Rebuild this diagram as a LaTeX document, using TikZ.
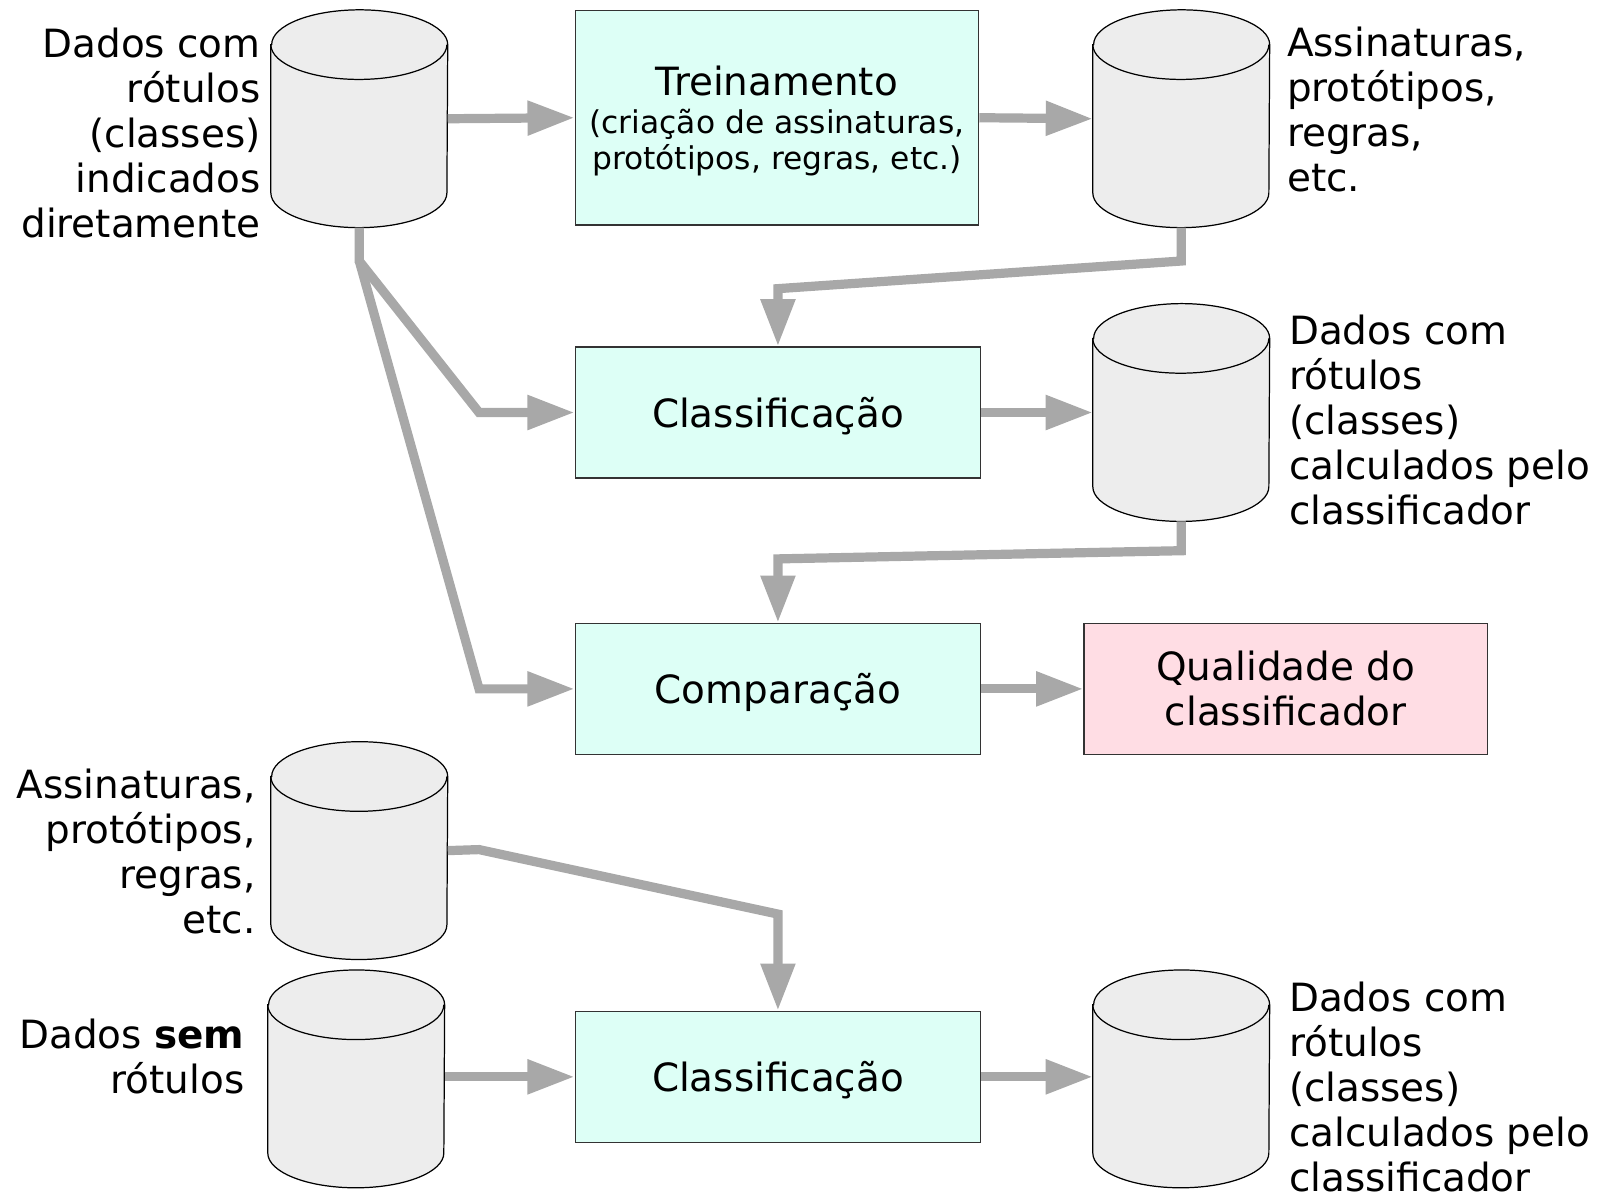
\documentclass[tikz,border=0pt]{standalone}
\usepackage{fontspec}
\setmainfont{DejaVu Sans}
\usetikzlibrary{arrows.meta}
\definecolor{flowgray}{HTML}{A8A8A8}
\definecolor{boxcyan}{HTML}{DDFFF6}
\definecolor{boxpink}{HTML}{FFDDE4}
\definecolor{dbgray}{HTML}{EDEDED}
\tikzset{
    database/.style={rectangle,minimum width=86pt,minimum height=106pt,inner sep=0pt},
    dbline/.style={draw=black,line width=0.6pt,fill=dbgray},
    result/.style={rectangle,draw=black!80,line width=0.7pt,fill=boxpink,align=center,inner sep=0pt},
    process/.style={result,fill=boxcyan,text depth=0pt},
    dblabel/.style={inner sep=0pt,font=\fontsize{19}{22}\selectfont},
    flow/.style={draw=flowgray,line width=4.5pt,-{Triangle[length=23pt,width=16pt]}},
}

\begin{document}
\begin{tikzpicture}[x=0.5pt,y=-0.5pt,font=\fontsize{19}{22}\selectfont]
\useasboundingbox(0,0)rectangle(1568,1172);
% training
\node[database](cyl1)at(351,116){};
\node[dblabel,anchor=east,align=right](lab1)at(255,130){Dados com\\rótulos\\(classes)\\indicados\\diretamente};
\node[process,minimum width=197pt,minimum height=105pt](train)at(759,115){Treinamento\\[-3.5pt]
    {\fontsize{15.3}{18}\selectfont(criação de assinaturas,}\\[-4pt]{\fontsize{15.3}{18}\selectfont protótipos, regras, etc.)}};
\node[database](cyl2)at(1154,116){};
\node[dblabel,anchor=west,align=left](lab2)at(1257,107){Assinaturas,\\protótipos,\\regras,\\etc.};
% test
\node[process,minimum width=198pt,minimum height=64pt](class1)at(760,403){Classificação};
\node[database](cyl3)at(1154,403){};
\node[dblabel,anchor=west,align=left](lab3)at(1259,410){Dados com\\rótulos\\(classes)\\calculados pelo\\classificador};
\node[process,minimum width=198pt,minimum height=64pt](comp)at(760,673){Comparação};
\node[result,minimum width=197pt,minimum height=64pt](qual)at(1256,673){Qualidade do\\classificador};
% use
\node[database](cyl4)at(351,831){};
\node[dblabel,anchor=east,align=right](lab4)at(250,832){Assinaturas,\\protótipos,\\regras,\\etc.};
\node[database](cyl5)at(348,1054){};
\node[dblabel,anchor=east,align=right](lab5)at(239,1032){Dados \textbf{sem}\\rótulos};
\node[process,minimum width=198pt,minimum height=64pt](class2)at(760,1052){Classificação};
\node[database](cyl6)at(1154,1054){};
\node[dblabel,anchor=west,align=left](lab6)at(1259,1062){Dados com\\rótulos\\(classes)\\calculados pelo\\classificador};
% cylinders
\foreach \c in {cyl1,cyl2,cyl3,cyl4,cyl5,cyl6}{
    \path[dbline]([yshift=-17pt]\c.north west)--([yshift=17pt]\c.south west)
        arc[start angle=180,end angle=360,x radius=43pt,y radius=17pt]
        --([yshift=-17pt]\c.north east)
        arc[start angle=0,end angle=180,x radius=43pt,y radius=17pt]--cycle;
    \draw[line width=0.6pt]([yshift=-17pt]\c.north west)
        arc[start angle=180,end angle=360,x radius=43pt,y radius=17pt];
}
% connectors
\coordinate(fork)at(351,255);
\draw[flow](cyl1.east)--(train.west);
\draw[flow](train.east)--(cyl2.west);
\draw[flow](cyl2.south)--(1154,255)--(760,282)--(class1.north);
\draw[flow](cyl1.south)--(fork)--(468,403)--(class1.west);
\draw[flow](fork)--(468,673)--(comp.west);
\draw[flow](class1.east)--(cyl3.west);
\draw[flow](cyl3.south)--(1154,538)--(760,546)--(comp.north);
\draw[flow](comp.east)--(qual.west);
\draw[flow](cyl4.east)--(468,830)--(760,893)--(class2.north);
\draw[flow](cyl5.east|-class2.west)--(class2.west);
\draw[flow](class2.east)--(cyl6.west|-class2.east);
\end{tikzpicture}
\end{document}
